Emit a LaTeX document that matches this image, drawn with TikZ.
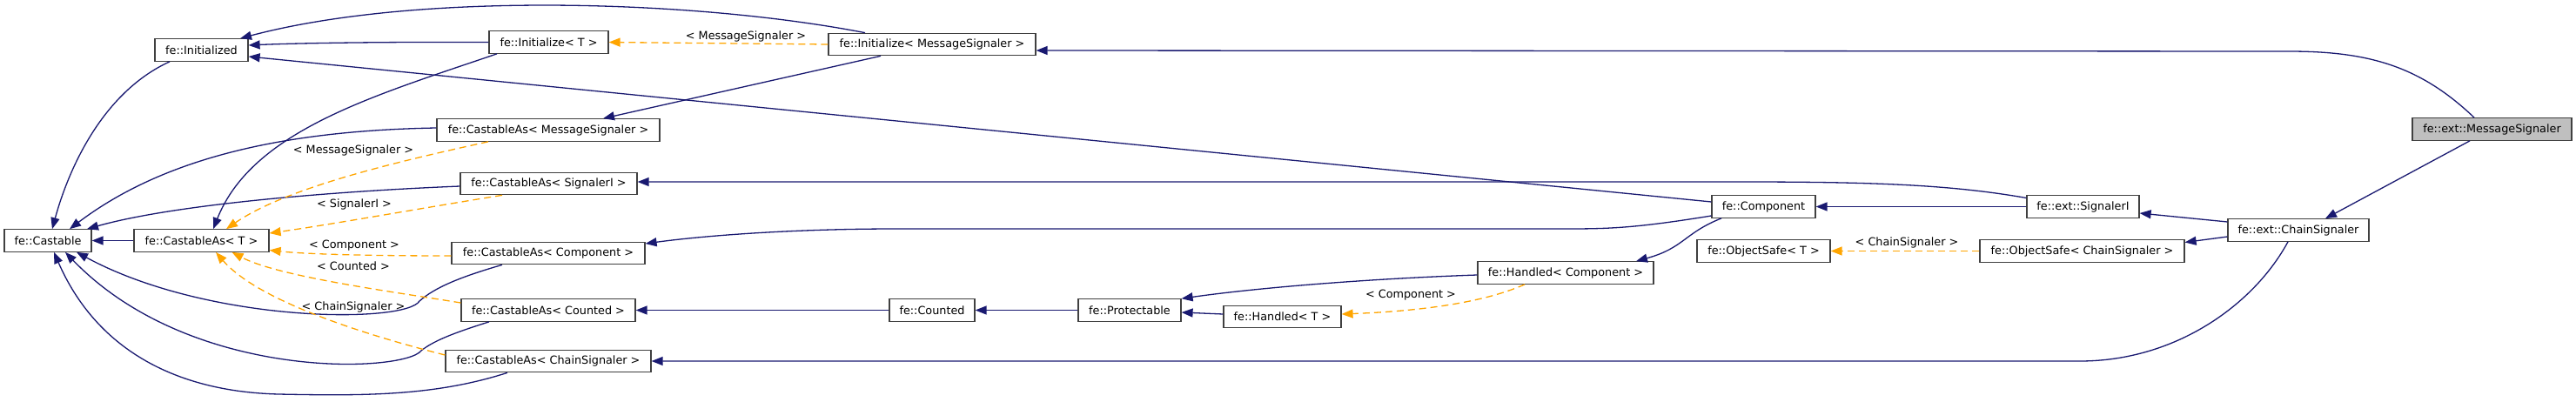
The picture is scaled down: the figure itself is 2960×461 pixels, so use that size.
\documentclass[tikz,border=0pt]{standalone}
\usepackage{fontspec}
\setmainfont{DejaVu Sans}
\usetikzlibrary{arrows.meta}
\definecolor{edgeblue}{HTML}{191970}
\definecolor{tmplorange}{HTML}{FFA500}
\definecolor{boxline}{HTML}{404040}
\definecolor{mainfill}{HTML}{BFBFBF}
\begin{document}
\begin{tikzpicture}[x=1pt,y=-1pt,
    cls/.style={draw=boxline, line width=1.2pt, fill=white, minimum height=25.5pt,
      inner xsep=2pt, inner ysep=0pt, font=\fontsize{12.8}{15}\selectfont},
    inh/.style={draw=edgeblue, line width=1.3pt, -{Triangle[length=13pt,width=10pt]}},
    tmpl/.style={draw=tmplorange, line width=1.3pt, dash pattern=on 8pt off 5pt,
      -{Triangle[length=13pt,width=10pt]}},
    lbl/.style={inner sep=0pt, font=\fontsize{12.8}{15}\selectfont}]
  \useasboundingbox (0,0) rectangle (2960,461);

  % classes
  \node [cls, minimum width=100pt] (castable) at (55,276.5) {fe::Castable};
  \node [cls, minimum width=155pt] (castT) at (231.5,276.5) {fe::CastableAs< T >};
  \node [cls, minimum width=107pt] (initd) at (231.5,57.5) {fe::Initialized};
  \node [cls, minimum width=137pt] (initT) at (630.5,48.5) {fe::Initialize< T >};
  \node [cls, minimum width=256pt] (castMS) at (630,149.5) {fe::CastableAs< MessageSignaler >};
  \node [cls, minimum width=203pt] (castSI) at (630.5,211) {fe::CastableAs< SignalerI >};
  \node [cls, minimum width=222pt] (castComp) at (630,291) {fe::CastableAs< Component >};
  \node [cls, minimum width=200pt] (castCnt) at (630,356.5) {fe::CastableAs< Counted >};
  \node [cls, minimum width=236pt] (castCS) at (630,415) {fe::CastableAs< ChainSignaler >};
  \node [cls, minimum width=238pt] (initMS) at (1071,51) {fe::Initialize< MessageSignaler >};
  \node [cls, minimum width=98pt] (counted) at (1071,356.5) {fe::Counted};
  \node [cls, minimum width=118pt] (protect) at (1298,356.5) {fe::Protectable};
  \node [cls, minimum width=135pt] (handT) at (1473.5,364) {fe::Handled< T >};
  \node [cls, minimum width=202pt] (handComp) at (1799,313.5) {fe::Handled< Component >};
  \node [cls, minimum width=119pt] (comp) at (2026.5,237.5) {fe::Component};
  \node [cls, minimum width=153pt] (objT) at (2026.5,288.5) {fe::ObjectSafe< T >};
  \node [cls, minimum width=129pt] (sigI) at (2393.5,237.5) {fe::ext::SignalerI};
  \node [cls, minimum width=235pt] (objCS) at (2392.5,288.5) {fe::ObjectSafe< ChainSignaler >};
  \node [cls, minimum width=162pt] (chain) at (2641,264.5) {fe::ext::ChainSignaler};
  \node [cls, minimum width=183pt, fill=mainfill] (msgS) at (2863.5,148.5) {fe::ext::MessageSignaler};

  % template labels
  \node [lbl] (lblInitMS) at (857,42) {< MessageSignaler >};
  \node [lbl] (lblCastMS) at (406,173) {< MessageSignaler >};
  \node [lbl] (lblCastSI) at (407,235) {< SignalerI >};
  \node [lbl] (lblCastComp) at (407,282) {< Component >};
  \node [lbl] (lblCastCnt) at (406,306) {< Counted >};
  \node [lbl] (lblCastCS) at (406,353) {< ChainSignaler >};
  \node [lbl] (lblHand) at (1621,339) {< Component >};
  \node [lbl] (lblObj) at (2191,279) {< ChainSignaler >};

  % inheritance
  \draw [inh] ([xshift=-36.5pt]initd.south) .. controls (120,105) and (80,190) .. ([xshift=5pt]castable.north);
  \draw [inh] (castT.west) -- (castable.east);
  \draw [inh] ([yshift=2.5pt]castMS.west) .. controls (330,150) and (190,180) .. ([xshift=25pt]castable.north);
  \draw [inh] ([yshift=-3pt]castSI.west) .. controls (380,220) and (200,235) .. ([xshift=45pt]castable.north);
  \draw [inh] ([xshift=-53pt]castComp.south) .. controls (530,318) and (500,330) .. (482,346)
    .. controls (466,372) and (240,372) .. ([xshift=33pt]castable.south);
  \draw [inh] ([xshift=-68pt]castCnt.south) .. controls (530,380) and (500,390) .. (484,403)
    .. controls (465,428) and (220,440) .. ([xshift=20pt]castable.south);
  \draw [inh] ([xshift=-47pt]castCS.south) .. controls (500,455) and (420,455) .. (320,453)
    .. controls (200,450) and (110,400) .. ([xshift=7pt]castable.south);
  \draw [inh] (initT.west) .. controls (420,48) and (330,50) .. ([yshift=5.5pt]initd.east);
  \draw [inh] ([xshift=-59.5pt]initT.south) .. controls (430,110) and (290,150) .. ([xshift=13.5pt]castT.north);
  \draw [inh] ([xshift=-77pt]initMS.north) .. controls (800,0) and (480,-10) .. ([xshift=44.5pt]initd.north);
  \draw [inh] ([xshift=-59pt]initMS.south) -- ([xshift=63pt]castMS.north);
  \draw [inh] ([yshift=5.5pt]comp.west) -- ([yshift=-7.5pt]initd.east);
  \draw [inh] ([yshift=-10.5pt]comp.west) .. controls (1880,262) and (1850,263) .. (1800,263)
    -- (1030,263) .. controls (900,263) and (800,272) .. ([yshift=11pt]castComp.east);
  \draw [inh] ([xshift=-48.5pt]comp.south) .. controls (1935,268) and (1935,285) .. ([xshift=81pt]handComp.north);
  \draw [inh] ([yshift=-2.5pt]handComp.west) .. controls (1580,320) and (1450,330) .. (protect.north east);
  \draw [inh] ([yshift=3pt]handT.west) -- ([yshift=-2.5pt]protect.east);
  \draw [inh] (protect.west) -- (counted.east);
  \draw [inh] (counted.west) -- (castCnt.east);
  \draw [inh] (sigI.west) -- (comp.east);
  \draw [inh] ([yshift=10pt]sigI.west) .. controls (2240,212) and (2150,209) .. (2000,209)
    -- ([yshift=2pt]castSI.east);
  \draw [inh] ([yshift=9.5pt]chain.west) -- ([yshift=-7.5pt]sigI.east);
  \draw [inh] ([yshift=-7.5pt]chain.west) -- ([yshift=10pt]objCS.east);
  \draw [inh] ([xshift=-12pt]chain.south) .. controls (2590,350) and (2500,415) .. (2390,415)
    -- (castCS.east);
  \draw [inh] ([xshift=-20.5pt]msgS.north) .. controls (2780,75) and (2720,59) .. (2630,59)
    -- ([yshift=-7pt]initMS.east);
  \draw [inh] ([xshift=-25.5pt]msgS.south) -- ([xshift=31pt]chain.north);

  % template instances
  \draw [tmpl] (initMS.west) -- (initT.east);
  \draw [tmpl] ([xshift=-69pt]castMS.south) .. controls (460,185) and (330,215) .. ([xshift=28.5pt]castT.north);
  \draw [tmpl] ([xshift=-53.5pt]castSI.south) .. controls (480,240) and (380,258) .. ([yshift=8.5pt]castT.east);
  \draw [tmpl] ([yshift=-3pt]castComp.west) .. controls (420,294) and (350,292) .. ([yshift=-11pt]castT.east);
  \draw [tmpl] ([yshift=8.5pt]castCnt.west) .. controls (450,335) and (320,318) .. ([xshift=35pt]castT.south);
  \draw [tmpl] ([yshift=7pt]castCS.west) .. controls (440,390) and (300,350) .. ([xshift=16.5pt]castT.south);
  \draw [tmpl] ([xshift=-47pt]handComp.south) .. controls (1700,350) and (1620,358) .. ([yshift=3pt]handT.east);
  \draw [tmpl] (objCS.west) -- (objT.east);
\end{tikzpicture}
\end{document}
